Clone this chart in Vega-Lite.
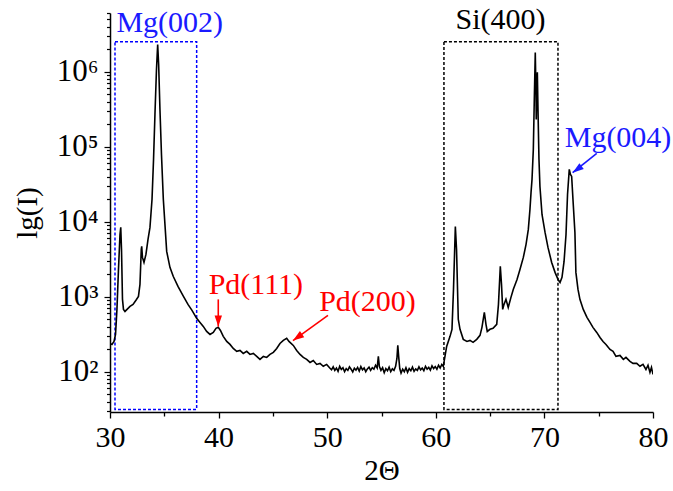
{
  "$schema": "https://vega.github.io/schema/vega-lite/v6.json",
  "width": 543,
  "height": 399,
  "autosize": "none",
  "padding": {"left": 110, "top": 13, "right": 20, "bottom": 79},
  "background": "white",
  "config": {
    "view": {"stroke": null},
    "font": "Liberation Serif"
  },
  "datasets": {
    "curve": [
      {"t":30.00,"I":238},{"t":30.18,"I":231},{"t":30.37,"I":253},{"t":30.51,"I":314},{"t":30.64,"I":677},{"t":30.78,"I":2310},{"t":30.92,"I":6760},{"t":30.99,"I":8400},{"t":31.06,"I":4270},{"t":31.15,"I":921},{"t":31.24,"I":677},{"t":31.38,"I":636},{"t":31.57,"I":677},{"t":31.84,"I":742},{"t":32.12,"I":790},{"t":32.39,"I":896},{"t":32.62,"I":1010},{"t":32.76,"I":1460},{"t":32.88,"I":4270},{"t":32.92,"I":4690},{"t":32.99,"I":3340},{"t":33.13,"I":2860},{"t":33.31,"I":3660},{"t":33.50,"I":5810},{"t":33.68,"I":8400},{"t":33.87,"I":19900},{"t":34.01,"I":67900},{"t":34.14,"I":271000},{"t":34.28,"I":1070000},{"t":34.39,"I":2310000},{"t":34.48,"I":1250000},{"t":34.60,"I":314000},{"t":34.74,"I":78900},{"t":34.91,"I":19900},{"t":35.22,"I":4020},{"t":35.52,"I":2460},{"t":35.83,"I":1860},{"t":36.26,"I":1370},{"t":36.75,"I":1020},{"t":37.18,"I":789},{"t":37.55,"I":656},{"t":37.98,"I":515},{"t":38.29,"I":454},{"t":38.59,"I":402},{"t":38.90,"I":344},{"t":39.21,"I":314},{"t":39.51,"I":334},{"t":39.76,"I":378},{"t":39.97,"I":390},{"t":40.17,"I":355},{"t":40.43,"I":296},{"t":40.75,"I":253},{"t":41.05,"I":231},{"t":41.35,"I":204},{"t":41.67,"I":187},{"t":41.97,"I":192},{"t":42.27,"I":175},{"t":42.59,"I":187},{"t":42.89,"I":170},{"t":43.20,"I":175},{"t":43.51,"I":160},{"t":43.81,"I":146},{"t":44.12,"I":160},{"t":44.43,"I":155},{"t":44.73,"I":170},{"t":45.04,"I":181},{"t":45.35,"I":204},{"t":45.65,"I":238},{"t":45.96,"I":261},{"t":46.27,"I":278},{"t":46.48,"I":253},{"t":46.88,"I":224},{"t":47.19,"I":192},{"t":47.50,"I":170},{"t":47.80,"I":155},{"t":48.11,"I":146},{"t":48.42,"I":133},{"t":48.72,"I":141},{"t":49.03,"I":125},{"t":49.34,"I":129},{"t":49.64,"I":118},{"t":49.95,"I":125},{"t":50.26,"I":111},
      {"t":50.40,"I":106},{"t":50.55,"I":116},{"t":50.70,"I":104},{"t":50.85,"I":112},{"t":51.00,"I":101},{"t":51.15,"I":118},{"t":51.30,"I":107},{"t":51.45,"I":113},{"t":51.60,"I":100},{"t":51.75,"I":110},{"t":51.90,"I":104},{"t":52.05,"I":116},{"t":52.20,"I":108},{"t":52.35,"I":99},{"t":52.50,"I":111},{"t":52.65,"I":105},{"t":52.80,"I":114},{"t":52.95,"I":102},{"t":53.10,"I":117},{"t":53.25,"I":106},{"t":53.40,"I":112},{"t":53.55,"I":100},{"t":53.70,"I":109},{"t":53.85,"I":115},{"t":54.00,"I":104},{"t":54.15,"I":113},{"t":54.30,"I":108},{"t":54.45,"I":122},{"t":54.60,"I":112},{"t":54.71,"I":160},{"t":54.80,"I":118},{"t":54.95,"I":104},{"t":55.10,"I":113},{"t":55.25,"I":97},{"t":55.40,"I":110},{"t":55.55,"I":103},{"t":55.70,"I":115},{"t":55.85,"I":100},{"t":56.00,"I":109},{"t":56.15,"I":104},{"t":56.30,"I":118},{"t":56.42,"I":150},{"t":56.50,"I":224},{"t":56.58,"I":160},{"t":56.68,"I":110},{"t":56.80,"I":96},{"t":56.95,"I":108},{"t":57.10,"I":100},{"t":57.25,"I":113},{"t":57.40,"I":98},{"t":57.55,"I":110},{"t":57.70,"I":103},{"t":57.85,"I":115},{"t":58.00,"I":101},{"t":58.15,"I":109},{"t":58.30,"I":104},{"t":58.45,"I":116},{"t":58.60,"I":106},{"t":58.75,"I":112},{"t":58.90,"I":103},{"t":59.05,"I":118},{"t":59.20,"I":108},{"t":59.35,"I":114},{"t":59.50,"I":105},{"t":59.65,"I":120},{"t":59.80,"I":110},{"t":59.95,"I":117},{"t":60.10,"I":108},{"t":60.25,"I":122},{"t":60.40,"I":112},{"t":60.55,"I":125},{"t":60.69,"I":118},
      {"t":61.00,"I":217},{"t":61.31,"I":296},{"t":61.49,"I":367},{"t":61.63,"I":1260},{"t":61.80,"I":8650},{"t":61.91,"I":4270},{"t":62.07,"I":500},{"t":62.23,"I":367},{"t":62.53,"I":270},{"t":62.87,"I":253},{"t":63.15,"I":261},{"t":63.43,"I":246},{"t":63.77,"I":270},{"t":64.07,"I":305},{"t":64.25,"I":390},{"t":64.47,"I":618},{"t":64.62,"I":428},{"t":64.74,"I":344},{"t":64.99,"I":367},{"t":65.27,"I":378},{"t":65.61,"I":428},{"t":65.77,"I":790},{"t":65.94,"I":2540},{"t":66.05,"I":1460},{"t":66.16,"I":677},{"t":66.28,"I":790},{"t":66.46,"I":921},{"t":66.67,"I":720},{"t":66.92,"I":980},{"t":67.14,"I":1260},{"t":67.48,"I":1700},{"t":67.75,"I":2310},{"t":68.06,"I":3340},{"t":68.31,"I":4990},{"t":68.52,"I":7900},{"t":68.67,"I":14600},{"t":68.77,"I":24600},{"t":68.86,"I":36700},{"t":68.98,"I":92000},{"t":69.07,"I":427000},{"t":69.16,"I":1810000},{"t":69.23,"I":491000},{"t":69.25,"I":231000},{"t":69.30,"I":670000},{"t":69.35,"I":980000},{"t":69.41,"I":314000},{"t":69.50,"I":67900},{"t":69.59,"I":29500},{"t":69.78,"I":12500},{"t":70.06,"I":7190},{"t":70.33,"I":4540},{"t":70.67,"I":2860},{"t":70.98,"I":2110},{"t":71.25,"I":1700},{"t":71.44,"I":1550},{"t":71.62,"I":1810},{"t":71.81,"I":2950},{"t":71.99,"I":6760},{"t":72.13,"I":23100},{"t":72.29,"I":49800},{"t":72.40,"I":42700},{"t":72.51,"I":40200},{"t":72.63,"I":19900},{"t":72.81,"I":7190},{"t":72.90,"I":2110},{"t":73.09,"I":1260},{"t":73.27,"I":921},{"t":73.58,"I":677},{"t":73.92,"I":530},{"t":74.20,"I":454},{"t":74.47,"I":390},{"t":74.82,"I":334},{"t":75.12,"I":286},{"t":75.40,"I":253},{"t":75.67,"I":231},{"t":76.04,"I":198},{"t":76.32,"I":187},{"t":76.59,"I":160},{"t":76.96,"I":165},{"t":77.27,"I":146},{"t":77.51,"I":155},{"t":77.88,"I":137},{"t":78.16,"I":129},{"t":78.50,"I":129},{"t":78.80,"I":118},{"t":79.08,"I":125},{"t":79.35,"I":107},{"t":79.54,"I":122},{"t":79.72,"I":98},{"t":79.86,"I":114},{"t":80.00,"I":92}
    ],
    "boxes": [
      {"phase":"Mg","t":30.46,"t2":37.98,"I":31.4,"I2":2510000},
      {"phase":"Si","t":60.75,"t2":71.25,"I":31.4,"I2":2510000}
    ],
    "labels": [
      {"phase":"Mg","text":"Mg(002)","t":35.5,"I":3420000},
      {"phase":"Si","text":"Si(400)","t":65.96,"I":3670000},
      {"phase":"Mg","text":"Mg(004)","t":76.78,"I":100000},
      {"phase":"Pd","text":"Pd(111)","t":43.43,"I":1070},
      {"phase":"Pd","text":"Pd(200)","t":53.71,"I":643}
    ],
    "arrows": [
      {"phase":"Mg","name":"Mg(004)","t":74.82,"I":81700,"t2":72.6,"I2":45000},
      {"phase":"Pd","name":"Pd(111)","t":39.97,"I":921,"t2":39.97,"I2":400},
      {"phase":"Pd","name":"Pd(200)","t":50.07,"I":562,"t2":46.85,"I2":260}
    ]
  },
  "encoding": {
    "x": {
      "field": "t", "type": "quantitative",
      "scale": {"domain": [30, 80], "nice": false, "zero": false, "padding": 0},
      "axis": {
        "title": "2Θ",
        "values": [30, 35, 40, 45, 50, 55, 60, 65, 70, 75, 80],
        "labelExpr": "datum.value % 10 === 0 ? datum.label : ''",
        "labelFlush": false,
        "labelOverlap": false,
        "grid": false,
        "domainColor": "black", "domainWidth": 1.5,
        "tickColor": "black", "tickWidth": 1.3,
        "tickSize": {"condition": {"test": "datum.value % 10 === 0", "value": 6}, "value": 4},
        "labelFont": "Liberation Serif", "labelFontSize": 30, "labelColor": "black", "labelPadding": 4,
        "titleFont": "Liberation Serif", "titleFontSize": 29, "titleFontWeight": "normal", "titleColor": "black", "titlePadding": 4
      }
    },
    "y": {
      "field": "I", "type": "quantitative",
      "scale": {"type": "log", "domain": [29, 6070000], "nice": false, "padding": 0},
      "axis": {
        "title": "lg(I)",
        "values": [30,40,50,60,70,80,90,100,200,300,400,500,600,700,800,900,1000,2000,3000,4000,5000,6000,7000,8000,9000,10000,20000,30000,40000,50000,60000,70000,80000,90000,100000,200000,300000,400000,500000,600000,700000,800000,900000,1000000,2000000,3000000,4000000,5000000,6000000],
        "labelExpr": "datum.value == 100 ? '10²' : datum.value == 1000 ? '10³' : datum.value == 10000 ? '10⁴' : datum.value == 100000 ? '10⁵' : datum.value == 1000000 ? '10⁶' : ''",
        "labelFlush": false,
        "labelOverlap": false,
        "grid": false,
        "domainColor": "black", "domainWidth": 1.5,
        "tickColor": "black", "tickWidth": 1.2,
        "tickSize": {"condition": {"test": "datum.value == 100 || datum.value == 1000 || datum.value == 10000 || datum.value == 100000 || datum.value == 1000000", "value": 6}, "value": 3.5},
        "labelFont": "Liberation Serif", "labelFontSize": 31, "labelColor": "black", "labelPadding": 6,
        "titleFont": "Liberation Serif", "titleFontSize": 29, "titleFontWeight": "normal", "titleColor": "black", "titlePadding": 14
      }
    }
  },
  "layer": [
    {
      "data": {"name": "boxes"},
      "transform": [{"filter": "datum.phase == 'Mg'"}],
      "mark": {"type": "rect", "fill": null, "stroke": "#0000ff", "strokeWidth": 1.5, "strokeDash": [3, 2]},
      "encoding": {
        "x2": {"field": "t2"},
        "y2": {"field": "I2"}
      }
    },
    {
      "data": {"name": "boxes"},
      "transform": [{"filter": "datum.phase == 'Si'"}],
      "mark": {"type": "rect", "fill": null, "stroke": "black", "strokeWidth": 1.5, "strokeDash": [3, 2]},
      "encoding": {
        "x2": {"field": "t2"},
        "y2": {"field": "I2"}
      }
    },
    {
      "data": {"name": "curve"},
      "mark": {"type": "line", "color": "black", "strokeWidth": 1.6, "clip": true},
      "encoding": {}
    },
    {
      "data": {"name": "labels"},
      "mark": {"type": "text", "font": "Liberation Serif", "fontSize": 30, "align": "center", "baseline": "alphabetic"},
      "encoding": {
        "text": {"field": "text"},
        "color": {"field": "phase", "type": "nominal", "scale": {"domain": ["Mg", "Si", "Pd"], "range": ["#1a1aff", "black", "#ff0000"]}, "legend": null}
      }
    },
    {
      "data": {"name": "arrows"},
      "mark": {"type": "rule", "strokeWidth": 1.6},
      "encoding": {
        "x2": {"field": "t2"},
        "y2": {"field": "I2"},
        "color": {"field": "phase", "type": "nominal", "scale": {"domain": ["Mg", "Si", "Pd"], "range": ["#1a1aff", "black", "#ff0000"]}, "legend": null}
      }
    },
    {
      "data": {"name": "arrows"},
      "transform": [{"filter": "datum.name == 'Mg(004)'"}],
      "mark": {"type": "point", "shape": "M0,0L-0.5,1.5L0.5,1.5Z", "filled": true, "size": 220, "angle": 233.6, "color": "#1a1aff", "opacity": 1},
      "encoding": {
        "x": {"field": "t2", "type": "quantitative"},
        "y": {"field": "I2", "type": "quantitative"}
      }
    },
    {
      "data": {"name": "arrows"},
      "transform": [{"filter": "datum.name == 'Pd(111)'"}],
      "mark": {"type": "point", "shape": "M0,0L-0.5,1.5L0.5,1.5Z", "filled": true, "size": 220, "angle": 180, "color": "#ff0000", "opacity": 1},
      "encoding": {
        "x": {"field": "t2", "type": "quantitative"},
        "y": {"field": "I2", "type": "quantitative"}
      }
    },
    {
      "data": {"name": "arrows"},
      "transform": [{"filter": "datum.name == 'Pd(200)'"}],
      "mark": {"type": "point", "shape": "M0,0L-0.5,1.5L0.5,1.5Z", "filled": true, "size": 220, "angle": 234.7, "color": "#ff0000", "opacity": 1},
      "encoding": {
        "x": {"field": "t2", "type": "quantitative"},
        "y": {"field": "I2", "type": "quantitative"}
      }
    }
  ]
}
